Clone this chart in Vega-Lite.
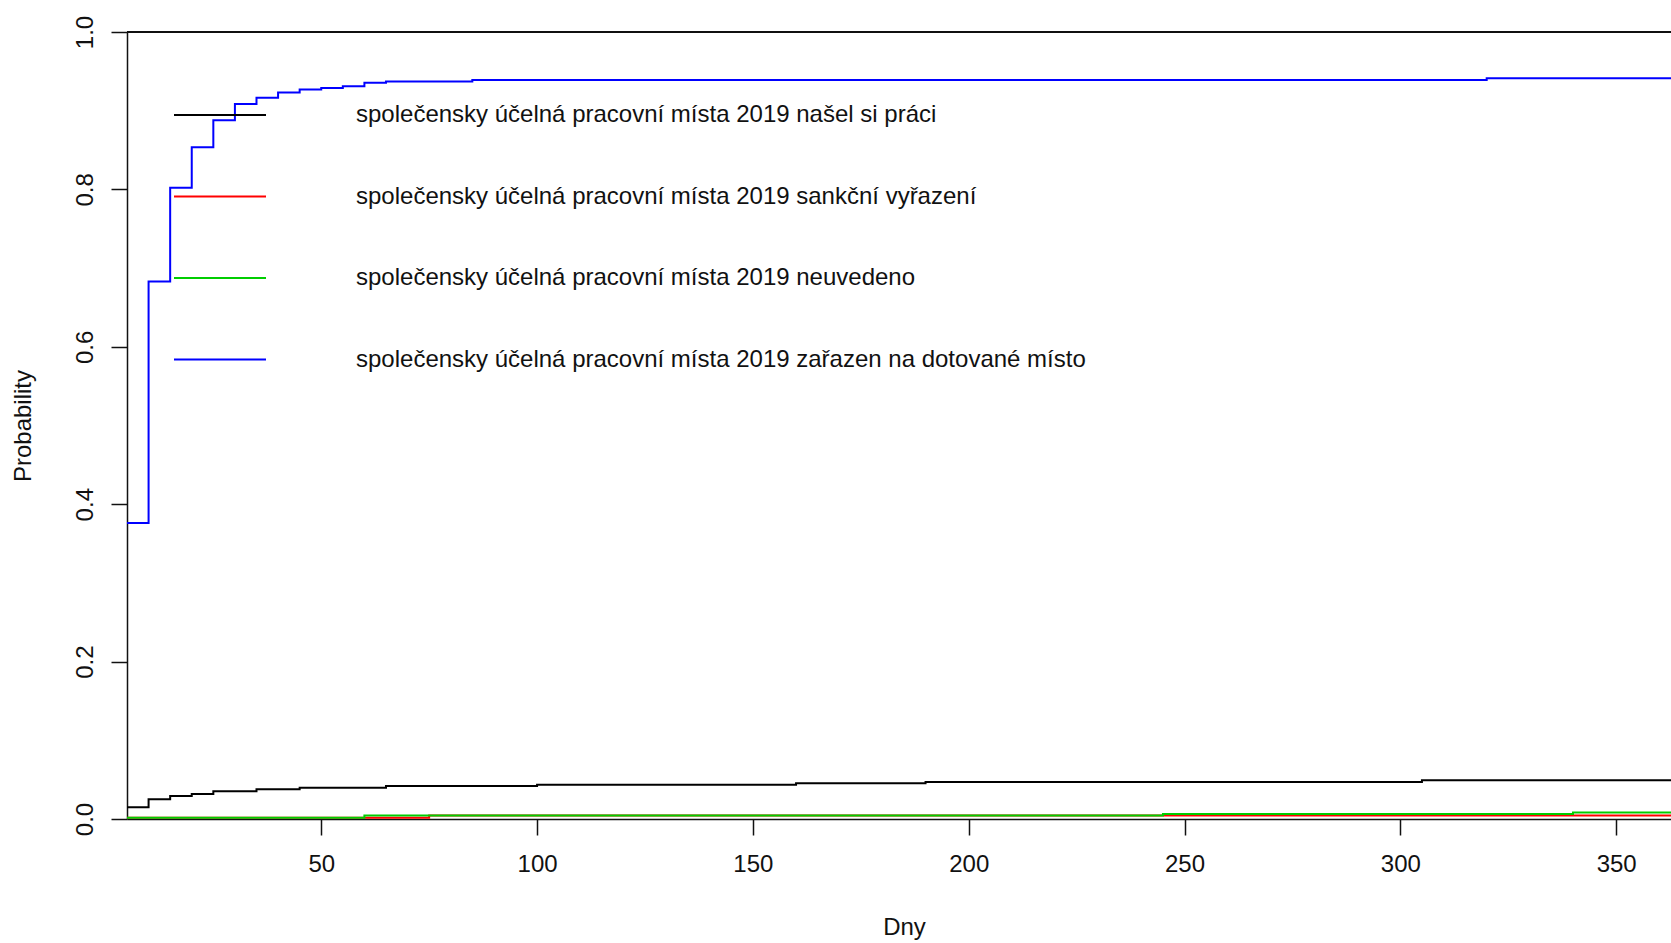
{
  "$schema": "https://vega.github.io/schema/vega-lite/v6.json",
  "autosize": {"type": "none"},
  "width": 1544,
  "height": 787,
  "padding": {"left": 127, "top": 32, "right": 0, "bottom": 124},
  "background": "white",
  "config": {
    "view": {"stroke": null},
    "font": "Liberation Sans",
    "axis": {
      "domainColor": "#111",
      "domainWidth": 1.5,
      "tickColor": "#111",
      "tickWidth": 1.5,
      "tickSize": 16,
      "labelColor": "#111",
      "labelFont": "Liberation Sans",
      "labelFontSize": 24,
      "titleFont": "Liberation Sans",
      "titleFontSize": 24,
      "titleFontWeight": "normal",
      "titleColor": "#111",
      "grid": false
    },
    "legend": {
      "orient": "none",
      "legendX": 46,
      "legendY": 36,
      "symbolType": "stroke",
      "symbolSize": 8464,
      "symbolStrokeWidth": 2,
      "labelFont": "Liberation Sans",
      "labelFontSize": 24,
      "labelColor": "#111",
      "labelOffset": 89,
      "labelLimit": 0,
      "rowPadding": 22.5,
      "padding": 0,
      "title": null
    }
  },
  "data": {
    "values": [
      {"s": "společensky účelná pracovní místa 2019 našel si práci", "day": 5, "p": 0.0148},
      {"s": "společensky účelná pracovní místa 2019 našel si práci", "day": 10, "p": 0.025},
      {"s": "společensky účelná pracovní místa 2019 našel si práci", "day": 15, "p": 0.0292},
      {"s": "společensky účelná pracovní místa 2019 našel si práci", "day": 20, "p": 0.0318},
      {"s": "společensky účelná pracovní místa 2019 našel si práci", "day": 25, "p": 0.0352},
      {"s": "společensky účelná pracovní místa 2019 našel si práci", "day": 35, "p": 0.0377},
      {"s": "společensky účelná pracovní místa 2019 našel si práci", "day": 45, "p": 0.0398},
      {"s": "společensky účelná pracovní místa 2019 našel si práci", "day": 65, "p": 0.0419},
      {"s": "společensky účelná pracovní místa 2019 našel si práci", "day": 100, "p": 0.0436},
      {"s": "společensky účelná pracovní místa 2019 našel si práci", "day": 160, "p": 0.0453},
      {"s": "společensky účelná pracovní místa 2019 našel si práci", "day": 190, "p": 0.047},
      {"s": "společensky účelná pracovní místa 2019 našel si práci", "day": 305, "p": 0.0491},
      {"s": "společensky účelná pracovní místa 2019 našel si práci", "day": 362.7, "p": 0.0491},
      {"s": "společensky účelná pracovní místa 2019 sankční vyřazení", "day": 5, "p": 0.0017},
      {"s": "společensky účelná pracovní místa 2019 sankční vyřazení", "day": 75, "p": 0.0045},
      {"s": "společensky účelná pracovní místa 2019 sankční vyřazení", "day": 362.7, "p": 0.0045},
      {"s": "společensky účelná pracovní místa 2019 neuvedeno", "day": 5, "p": 0.0017},
      {"s": "společensky účelná pracovní místa 2019 neuvedeno", "day": 60, "p": 0.0045},
      {"s": "společensky účelná pracovní místa 2019 neuvedeno", "day": 245, "p": 0.0063},
      {"s": "společensky účelná pracovní místa 2019 neuvedeno", "day": 340, "p": 0.0083},
      {"s": "společensky účelná pracovní místa 2019 neuvedeno", "day": 362.7, "p": 0.0083},
      {"s": "společensky účelná pracovní místa 2019 zařazen na dotované místo", "day": 5, "p": 0.376},
      {"s": "společensky účelná pracovní místa 2019 zařazen na dotované místo", "day": 10, "p": 0.683},
      {"s": "společensky účelná pracovní místa 2019 zařazen na dotované místo", "day": 15, "p": 0.802},
      {"s": "společensky účelná pracovní místa 2019 zařazen na dotované místo", "day": 20, "p": 0.8535},
      {"s": "společensky účelná pracovní místa 2019 zařazen na dotované místo", "day": 25, "p": 0.888},
      {"s": "společensky účelná pracovní místa 2019 zařazen na dotované místo", "day": 30, "p": 0.9085},
      {"s": "společensky účelná pracovní místa 2019 zařazen na dotované místo", "day": 35, "p": 0.9165},
      {"s": "společensky účelná pracovní místa 2019 zařazen na dotované místo", "day": 40, "p": 0.923},
      {"s": "společensky účelná pracovní místa 2019 zařazen na dotované místo", "day": 45, "p": 0.927},
      {"s": "společensky účelná pracovní místa 2019 zařazen na dotované místo", "day": 50, "p": 0.929},
      {"s": "společensky účelná pracovní místa 2019 zařazen na dotované místo", "day": 55, "p": 0.931},
      {"s": "společensky účelná pracovní místa 2019 zařazen na dotované místo", "day": 60, "p": 0.9356},
      {"s": "společensky účelná pracovní místa 2019 zařazen na dotované místo", "day": 65, "p": 0.937},
      {"s": "společensky účelná pracovní místa 2019 zařazen na dotované místo", "day": 85, "p": 0.939},
      {"s": "společensky účelná pracovní místa 2019 zařazen na dotované místo", "day": 320, "p": 0.9412},
      {"s": "společensky účelná pracovní místa 2019 zařazen na dotované místo", "day": 362.7, "p": 0.9412}
    ]
  },
  "layer": [
    {
      "mark": {"type": "rule", "color": "#111", "strokeWidth": 1.5},
      "encoding": {"y": {"datum": 1, "type": "quantitative"}}
    },
    {
      "mark": {"type": "line", "interpolate": "step-after", "strokeWidth": 2, "clip": true},
      "encoding": {
        "x": {
          "field": "day", "type": "quantitative",
          "scale": {"domain": [5, 362.7], "nice": false, "zero": false},
          "axis": {"values": [50, 100, 150, 200, 250, 300, 350], "title": "Dny", "labelPadding": 17, "titleX": 777, "titleY": 108, "titleBaseline": "middle"}
        },
        "y": {
          "field": "p", "type": "quantitative",
          "scale": {"domain": [0, 1], "nice": false},
          "axis": {"values": [0, 0.2, 0.4, 0.6, 0.8, 1.0], "format": ".1f", "labelAngle": -90, "labelAlign": "center", "labelBaseline": "bottom", "labelPadding": 14, "title": "Probability", "titleX": -104, "titleBaseline": "middle", "titleAngle": -90}
        },
        "color": {
          "field": "s", "type": "nominal",
          "scale": {
            "domain": [
              "společensky účelná pracovní místa 2019 našel si práci",
              "společensky účelná pracovní místa 2019 sankční vyřazení",
              "společensky účelná pracovní místa 2019 neuvedeno",
              "společensky účelná pracovní místa 2019 zařazen na dotované místo"
            ],
            "range": ["#000000", "#FF0000", "#00CD00", "#0000FF"]
          }
        }
      }
    }
  ]
}
